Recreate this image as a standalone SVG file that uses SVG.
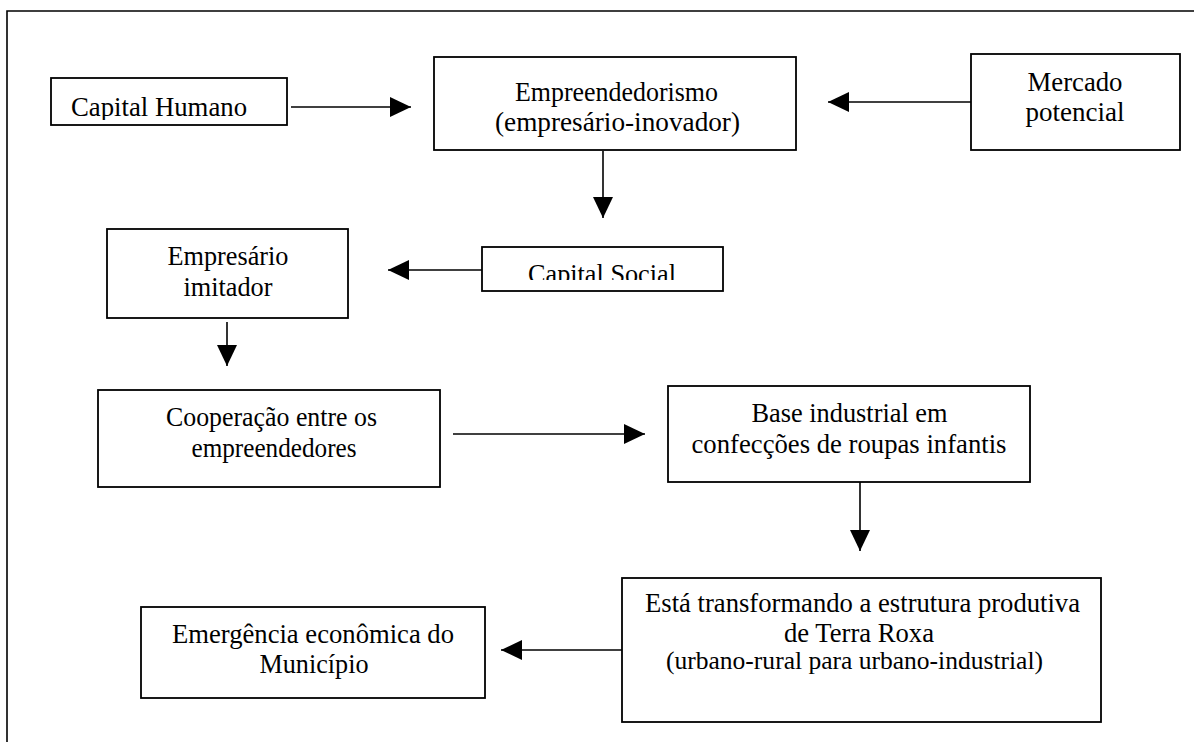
<svg xmlns="http://www.w3.org/2000/svg" width="1196" height="742" viewBox="0 0 1196 742">
<style>
.box{fill:#fff;stroke:#000;stroke-width:1.8}
.con{stroke:#000;stroke-width:1.6;fill:none;marker-end:url(#ah)}
.frame{stroke:#000;stroke-width:1.6;fill:none}
text{font-family:"Liberation Serif","Times New Roman",Times,serif;font-size:28px;fill:#000}
.sm{font-size:25px}
</style>
<defs>
<marker id="ah" markerUnits="userSpaceOnUse" markerWidth="21" markerHeight="20" refX="21" refY="10" orient="auto">
<path d="M0,0 L21,10 L0,20 Z" fill="#000"/>
</marker>
<clipPath id="clipCH"><rect x="51" y="78" width="236" height="42"/></clipPath>
<clipPath id="clipCS"><rect x="482" y="247" width="241" height="33"/></clipPath>
</defs>
<path class="frame" d="M7,742 V11 H1194"/>
<g id="connectors">
<line class="con" x1="291" y1="107" x2="411" y2="107"/>
<line class="con" x1="971" y1="102" x2="828" y2="102"/>
<line class="con" x1="603" y1="151" x2="603" y2="218"/>
<line class="con" x1="482" y1="270" x2="388" y2="270"/>
<line class="con" x1="227" y1="322" x2="227" y2="366"/>
<line class="con" x1="453" y1="434" x2="645" y2="434"/>
<line class="con" x1="860" y1="482" x2="860" y2="551"/>
<line class="con" x1="622" y1="650" x2="501" y2="650"/>
</g>
<g id="capital-humano">
<rect class="box" x="51" y="78" width="236" height="47"/>
<text x="71" y="116" textLength="176" lengthAdjust="spacingAndGlyphs" clip-path="url(#clipCH)">Capital Humano</text>
</g>
<g id="empreendedorismo">
<rect class="box" x="434" y="57" width="362" height="93"/>
<text x="515" y="101" textLength="203" lengthAdjust="spacingAndGlyphs">Empreendedorismo</text>
<text x="495" y="131" textLength="245" lengthAdjust="spacingAndGlyphs">(empresário-inovador)</text>
</g>
<g id="mercado">
<rect class="box" x="971" y="54" width="209" height="96"/>
<text x="1027.5" y="91" textLength="95" lengthAdjust="spacingAndGlyphs">Mercado</text>
<text x="1025.5" y="121" textLength="99" lengthAdjust="spacingAndGlyphs">potencial</text>
</g>
<g id="capital-social">
<rect class="box" x="482" y="247" width="241" height="44"/>
<text x="528" y="283" textLength="148" lengthAdjust="spacingAndGlyphs" clip-path="url(#clipCS)">Capital Social</text>
</g>
<g id="empresario-imitador">
<rect class="box" x="107" y="229" width="241" height="89"/>
<text x="167.5" y="265" textLength="121" lengthAdjust="spacingAndGlyphs">Empresário</text>
<text x="183.5" y="296" textLength="89" lengthAdjust="spacingAndGlyphs">imitador</text>
</g>
<g id="cooperacao">
<rect class="box" x="98" y="390" width="342" height="97"/>
<text x="166" y="426" textLength="211" lengthAdjust="spacingAndGlyphs">Cooperação entre os</text>
<text x="191.5" y="457" textLength="165" lengthAdjust="spacingAndGlyphs">empreendedores</text>
</g>
<g id="base-industrial">
<rect class="box" x="668" y="386" width="362" height="96"/>
<text x="751.5" y="422" textLength="196" lengthAdjust="spacingAndGlyphs">Base industrial em</text>
<text x="691.5" y="453" textLength="315" lengthAdjust="spacingAndGlyphs">confecções de roupas infantis</text>
</g>
<g id="esta-transformando">
<rect class="box" x="622" y="578" width="479" height="144"/>
<text x="645" y="612" textLength="435" lengthAdjust="spacingAndGlyphs">Está transformando a estrutura produtiva</text>
<text x="784" y="642" textLength="150" lengthAdjust="spacingAndGlyphs">de Terra Roxa</text>
<text class="sm" x="666" y="669" textLength="377" lengthAdjust="spacingAndGlyphs">(urbano-rural para urbano-industrial)</text>
</g>
<g id="emergencia">
<rect class="box" x="141" y="607" width="344" height="91"/>
<text x="172" y="643" textLength="282" lengthAdjust="spacingAndGlyphs">Emergência econômica do</text>
<text x="259.5" y="673" textLength="109" lengthAdjust="spacingAndGlyphs">Município</text>
</g>
</svg>
